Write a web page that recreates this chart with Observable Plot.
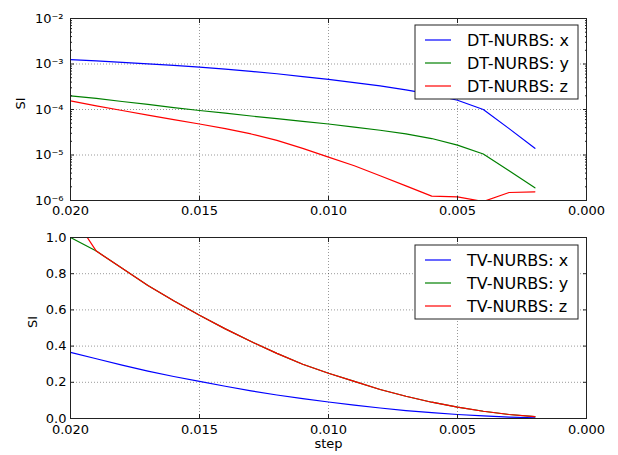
<!DOCTYPE html>
<html><head><meta charset="utf-8">
<script src="https://cdn.jsdelivr.net/npm/d3@7"></script>
<script src="https://cdn.jsdelivr.net/npm/@observablehq/plot@0.6"></script>
<style>
body{margin:0;background:#fff;}
#chart{width:618px;height:455px;overflow:hidden;}
#chart svg{display:block;}
</style></head><body><div id="chart"></div>
<script>
// ---- data ----
const steps = [0.020,0.019,0.018,0.017,0.016,0.015,0.014,0.013,0.012,0.011,0.010,0.009,0.008,0.007,0.006,0.005,0.004,0.003,0.002];

const dtX = [1.25e-3,1.17e-3,1.09e-3,1.01e-3,9.3e-4,8.5e-4,7.7e-4,6.9e-4,6.1e-4,5.3e-4,4.6e-4,3.9e-4,3.3e-4,2.7e-4,2.15e-4,1.6e-4,1.0e-4,3.8e-5,1.4e-5];
const dtY = [2.0e-4,1.75e-4,1.5e-4,1.3e-4,1.1e-4,9.5e-5,8.3e-5,7.2e-5,6.3e-5,5.5e-5,4.8e-5,4.1e-5,3.5e-5,2.9e-5,2.3e-5,1.65e-5,1.05e-5,4.5e-6,1.9e-6];
const dtZ = [1.55e-4,1.2e-4,9.5e-5,7.5e-5,6.0e-5,4.8e-5,3.8e-5,2.9e-5,2.1e-5,1.4e-5,9.0e-6,5.8e-6,3.5e-6,2.1e-6,1.25e-6,1.2e-6,9.5e-7,1.5e-6,1.55e-6];

const tvX = [0.365,0.330,0.295,0.262,0.232,0.205,0.178,0.153,0.130,0.110,0.091,0.074,0.058,0.044,0.032,0.022,0.014,0.008,0.004];
const tvY = [1.00,0.925,0.83,0.735,0.65,0.57,0.495,0.425,0.36,0.30,0.25,0.205,0.16,0.123,0.09,0.063,0.04,0.022,0.01];
const tvZ = [1.14,0.925,0.83,0.735,0.65,0.57,0.495,0.425,0.36,0.30,0.25,0.205,0.16,0.123,0.09,0.063,0.04,0.022,0.01];

const dtLabels = ["DT-NURBS: x","DT-NURBS: y","DT-NURBS: z"];
const tvLabels = ["TV-NURBS: x","TV-NURBS: y","TV-NURBS: z"];
const seriesColors = ["#0000ff","#008000","#ff0000"];

const xTicks = [0.020,0.015,0.010,0.005,0.000];
const xTickLabels = ["0.020","0.015","0.010","0.005","0.000"];
const logTicks = [1e-2,1e-3,1e-4,1e-5,1e-6];
const logTickLabels = ["10⁻²","10⁻³","10⁻⁴","10⁻⁵","10⁻⁶"];
const logMinor = [2e-6,3e-6,4e-6,5e-6,6e-6,7e-6,8e-6,9e-6,2e-5,3e-5,4e-5,5e-5,6e-5,7e-5,8e-5,9e-5,2e-4,3e-4,4e-4,5e-4,6e-4,7e-4,8e-4,9e-4,2e-3,3e-3,4e-3,5e-3,6e-3,7e-3,8e-3,9e-3];
const linTicks = [0,0.2,0.4,0.6,0.8,1.0];
const linTickLabels = ["0.0","0.2","0.4","0.6","0.8","1.0"];
const yTitle = "SI";
const xTitle = "step";

// ---- drawing ----
function panel(o) {
  const rows = o.series.flatMap((vals, i) => steps.map((s, j) => ({step: s, value: vals[j], name: o.labels[i]})));
  const fmtX = d => xTickLabels[xTicks.indexOf(d)];
  const fmtY = d => o.yTickLabels[o.yTicks.indexOf(d)];
  const blank = () => "";
  const tk = {tickFormat: blank, stroke: "#222", label: null};
  const marks = [
    Plot.gridX(xTicks, {stroke: "#000", strokeOpacity: 0.4, strokeWidth: 1, strokeDasharray: "1,2"}),
    Plot.gridY(o.yTicks, {stroke: "#000", strokeOpacity: 0.4, strokeWidth: 1, strokeDasharray: "1,2"}),
    Plot.line(rows, {x: "step", y: "value", stroke: "name", strokeWidth: 1.2, clip: true}),
    Plot.frame({stroke: "#222", strokeWidth: 1}),
    Plot.axisX(xTicks, {anchor: "bottom", tickSize: -4, ...tk}),
    Plot.axisX(xTicks, {anchor: "top", tickSize: -4, ...tk}),
    Plot.axisY(o.yTicks, {anchor: "left", tickSize: -4, ...tk}),
    Plot.axisY(o.yTicks, {anchor: "right", tickSize: -4, ...tk}),
    Plot.axisX(xTicks, {anchor: "bottom", tickSize: 0, tickPadding: o.xPad, tickFormat: fmtX, fill: "#000", label: null}),
    Plot.axisY(o.yTicks, {anchor: "left", tickSize: 0, tickPadding: o.yPad, tickFormat: fmtY, fill: "#000", label: null}),
    Plot.text([yTitle], {frameAnchor: "left", dx: o.yTitleDx, rotate: -90, fill: "#000"})
  ];
  if (o.minor) {
    marks.push(Plot.axisY(o.minor, {anchor: "left", tickSize: -2, ...tk}));
    marks.push(Plot.axisY(o.minor, {anchor: "right", tickSize: -2, ...tk}));
  }
  if (o.xTitle) marks.push(Plot.text([o.xTitle], {frameAnchor: "bottom", dy: 29, fill: "#000"}));
  const svg = Plot.plot({
    width: 618, height: o.height,
    marginLeft: 70, marginRight: 32, marginTop: o.marginTop, marginBottom: o.marginBottom,
    style: {fontFamily: "DejaVu Sans", fontSize: "13px", color: "#000", background: "#fff"},
    x: {domain: [0.02, 0], label: null},
    y: {type: o.yType, domain: o.yDomain, label: null},
    color: {domain: o.labels, range: seriesColors},
    marks
  });
  // legend box
  const g = d3.select(svg).append("g").attr("text-anchor", "start");
  g.append("rect").attr("x", 415).attr("y", o.legendTop).attr("width", 163).attr("height", 74)
    .attr("fill", "#fff").attr("stroke", "#222").attr("stroke-width", 1);
  o.labels.forEach((lab, i) => {
    const cy = o.legendTop + 15 + i * 23;
    g.append("line").attr("x1", 425).attr("x2", 451).attr("y1", cy).attr("y2", cy)
      .attr("stroke", seriesColors[i]).attr("stroke-width", 1.2);
    g.append("text").attr("x", 467).attr("y", cy).attr("dy", "0.35em").attr("text-anchor", "start")
      .attr("font-size", 16).attr("font-family", "DejaVu Sans").attr("fill", "#000").text(lab);
  });
  return svg;
}

const topPanel = panel({
  series: [dtX, dtY, dtZ], labels: dtLabels,
  yType: "log", yDomain: [1e-6, 1e-2], yTicks: logTicks, yTickLabels: logTickLabels, minor: logMinor,
  height: 219, marginTop: 18, marginBottom: 19, xPad: 5, yPad: 7, yTitleDx: -50, legendTop: 25
});
const bottomPanel = panel({
  series: [tvX, tvY, tvZ], labels: tvLabels,
  yType: "linear", yDomain: [0, 1], yTicks: linTicks, yTickLabels: linTickLabels,
  height: 236, marginTop: 18, marginBottom: 37, xPad: 6, yPad: 4, yTitleDx: -38, legendTop: 26, xTitle: xTitle
});
document.getElementById("chart").append(topPanel, bottomPanel);
</script></body></html>
